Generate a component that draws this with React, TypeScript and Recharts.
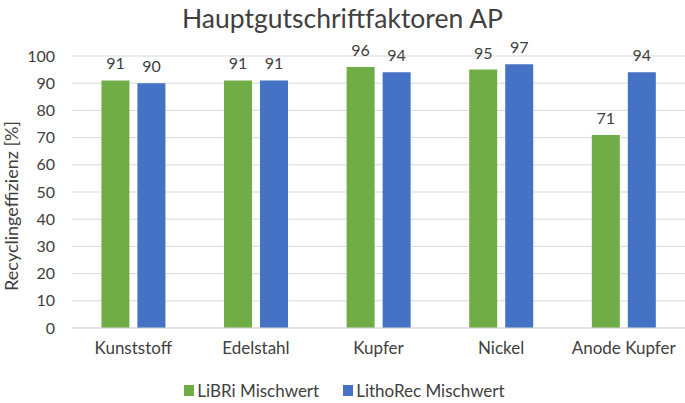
import { BarChart, Bar, XAxis, YAxis, CartesianGrid, Legend, LabelList, Label } from "recharts";

const categories = ["Kunststoff", "Edelstahl", "Kupfer", "Nickel", "Anode Kupfer"];
const libri = [91, 91, 96, 95, 71];
const lithorec = [90, 91, 94, 97, 94];
const yTicks = [0, 10, 20, 30, 40, 50, 60, 70, 80, 90, 100];

const data = categories.map((name, i) => ({ name, libri: libri[i], lithorec: lithorec[i] }));

const FONT = "Lato, 'Open Sans', sans-serif";
const TEXT = "#404040";

const series = [
  { key: "libri", label: "LiBRi Mischwert", color: "#70AD47" },
  { key: "lithorec", label: "LithoRec Mischwert", color: "#4472C4" },
];

function LegendBox() {
  return (
    <div style={{ height: 35, display: "flex", justifyContent: "center", alignItems: "flex-end", gap: 24, paddingLeft: 4, boxSizing: "border-box", paddingBottom: 2 }}>
      {series.map((s) => (
        <div key={s.key} style={{ display: "flex", alignItems: "center", gap: 3 }}>
          <div style={{ width: 10, height: 11, background: s.color }} />
          <span style={{ fontFamily: FONT, fontSize: 17, color: TEXT }}>{s.label}</span>
        </div>
      ))}
    </div>
  );
}

export default function App() {
  return (
    <div style={{ position: "absolute", left: 0, top: 0, width: 685, height: 403, background: "#fff" }}>
      <div
        style={{
          position: "absolute",
          top: 2,
          width: 685,
          textAlign: "center",
          fontFamily: FONT,
          fontSize: 26.5,
          color: TEXT,
        }}
      >
        Hauptgutschriftfaktoren AP
      </div>
      <BarChart
        width={685}
        height={403}
        data={data}
        margin={{ top: 56, right: 0, bottom: 0, left: 0 }}
        barCategoryGap="24%"
        barGap={8}
      >
        <CartesianGrid vertical={false} stroke="#D9D9D9" />
        <XAxis
          dataKey="name"
          height={40}
          tickLine={false}
          axisLine={{ stroke: "#D9D9D9" }}
          tickMargin={8}
          tick={{ fontFamily: FONT, fontSize: 17, fill: TEXT }}
        />
        <YAxis
          width={72}
          domain={[0, 100]}
          ticks={yTicks}
          tickLine={false}
          axisLine={false}
          tickMargin={11}
          tick={{ fontFamily: FONT, fontSize: 16, fill: TEXT }}
        >
          <Label
            content={(props: any) => {
              const vb = props.viewBox || { x: 0, y: 56, width: 72, height: 272 };
              const cy = vb.y + vb.height / 2 + 14;
              return (
                <text
                  x={11}
                  y={cy}
                  transform={`rotate(-90, 11, ${cy})`}
                  textAnchor="middle"
                  dominantBaseline="central"
                  fontFamily={FONT}
                  fontSize={18}
                  fill={TEXT}
                >
                  Recyclingeffizienz [%]
                </text>
              );
            }}
          />
        </YAxis>
        <Legend verticalAlign="bottom" content={() => <LegendBox />} />
        {series.map((s) => (
          <Bar key={s.key} dataKey={s.key} name={s.label} fill={s.color} isAnimationActive={false}>
            <LabelList dataKey={s.key} position="top" offset={11} fill={TEXT} fontFamily={FONT} fontSize={16} />
          </Bar>
        ))}
      </BarChart>
    </div>
  );
}
